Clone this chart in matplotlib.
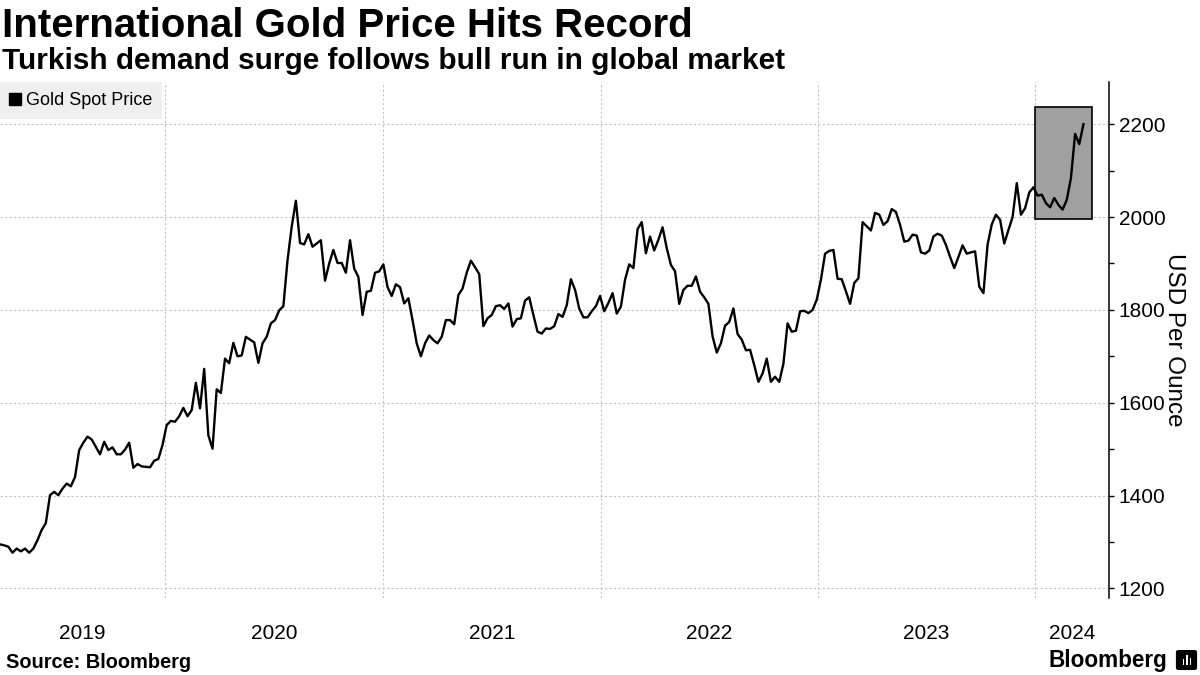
import matplotlib
matplotlib.use('Agg')
import matplotlib.pyplot as plt
import matplotlib.dates as mdates
from matplotlib import font_manager
from matplotlib.lines import Line2D
from matplotlib.patches import Rectangle, FancyBboxPatch
from matplotlib.ticker import MultipleLocator
import pandas as pd

title = 'International Gold Price Hits Record'
subtitle = 'Turkish demand surge follows bull run in global market'
source = 'Source: Bloomberg'
brand = 'Bloomberg'
series_name = 'Gold Spot Price'
y_label = 'USD Per Ounce'

# weekly closes (Fridays)
first_week = '2019-03-29'
gold_price = [
    1295, 1293, 1290, 1277, 1286, 1280, 1286, 1277, 1286, 1304,
    1326, 1341, 1401, 1408, 1401, 1415, 1426, 1420, 1440, 1498,
    1514, 1527, 1521, 1505, 1489, 1516, 1498, 1504, 1489, 1489,
    1499, 1514, 1460, 1468, 1463, 1462, 1461, 1475, 1479, 1509,
    1552, 1561, 1559, 1571, 1589, 1571, 1584, 1643, 1588, 1673,
    1530, 1501, 1629, 1621, 1695, 1685, 1729, 1700, 1702, 1742,
    1736, 1730, 1686, 1728, 1742, 1771, 1778, 1799, 1808, 1907,
    1979, 2035, 1944, 1941, 1963, 1936, 1943, 1950, 1863, 1900,
    1929, 1901, 1901, 1880, 1950, 1889, 1871, 1789, 1839, 1841,
    1880, 1883, 1898, 1849, 1830, 1855, 1849, 1814, 1825, 1778,
    1728, 1700, 1728, 1745, 1735, 1728, 1742, 1778, 1778, 1769,
    1832, 1846, 1880, 1906, 1892, 1877, 1765, 1782, 1789, 1808,
    1810, 1802, 1814, 1764, 1780, 1782, 1820, 1827, 1789, 1753,
    1749, 1760, 1759, 1765, 1791, 1785, 1810, 1866, 1843, 1803,
    1784, 1784, 1797, 1808, 1830, 1797, 1815, 1836, 1792, 1807,
    1865, 1898, 1890, 1974, 1989, 1922, 1958, 1928, 1951, 1978,
    1933, 1897, 1883, 1813, 1843, 1852, 1852, 1872, 1839, 1827,
    1813, 1743, 1708, 1728, 1766, 1774, 1803, 1748, 1736, 1713,
    1714, 1681, 1645, 1663, 1695, 1645, 1656, 1645, 1684, 1771,
    1753, 1755, 1797, 1798, 1793, 1800, 1822, 1865, 1921, 1927,
    1929, 1867, 1866, 1840, 1813, 1858, 1868, 1989, 1980, 1971,
    2009, 2005, 1983, 1991, 2017, 2011, 1983, 1947, 1949, 1962,
    1960, 1924, 1921, 1928, 1958, 1964, 1960, 1940, 1914, 1890,
    1914, 1939, 1921, 1924, 1926, 1850, 1836, 1941, 1984, 2005,
    1994, 1943, 1972, 2000, 2073, 2005, 2019, 2053, 2064, 2046,
    2048, 2030, 2021, 2041, 2026, 2016, 2037, 2084, 2179, 2157, 2200,
]
years = [2019, 2020, 2021, 2022, 2023, 2024]
y_ticks = [1200, 1400, 1600, 1800, 2000, 2200]
highlight_from = '2024-01-01'

dates = pd.date_range(first_week, periods=len(gold_price), freq='7D')

names = {f.name for f in font_manager.fontManager.ttflist}
body_font = 'Liberation Sans' if 'Liberation Sans' in names else 'DejaVu Sans'
head_font = 'Liberation Sans Narrow' if 'Liberation Sans Narrow' in names else body_font
plt.rcParams['font.family'] = body_font

fig = plt.figure(figsize=(12, 6.75), dpi=100)
ax = fig.add_axes([0, 0.1144, 0.9242, 0.7636])

ax.plot(dates, gold_price, color='black', lw=1.7, zorder=3)

# grey box around the 2024 run
hl = pd.Timestamp(highlight_from)
recent = [v for d, v in zip(dates, gold_price) if d >= hl]
x0 = mdates.date2num(hl)
x1 = mdates.date2num(dates[-1] + pd.Timedelta(days=15))
ax.add_patch(Rectangle((x0, min(recent) - 20), x1 - x0, max(recent) - min(recent) + 56,
                       facecolor='#a0a0a0', edgecolor='black', lw=1.2, zorder=2))

left = dates[0]
right = pd.Timestamp('2024-05-04')
ax.set_xlim(left, right)
ax.set_ylim(1180, 2290)

# year gridlines, year labels centred in the visible part of each year
starts = [pd.Timestamp(f'{y}-01-01') for y in years[1:]]
ax.set_xticks(starts)
ax.set_xticklabels([])
mids = []
for y in years:
    a = max(pd.Timestamp(f'{y}-01-01'), left)
    b = min(pd.Timestamp(f'{y + 1}-01-01'), right)
    mids.append(a + (b - a) / 2)
ax.set_xticks(mids, minor=True)
ax.set_xticklabels([str(y) for y in years], minor=True)
ax.tick_params(axis='x', which='both', length=0, pad=19, labelsize=15)

ax.yaxis.tick_right()
ax.set_yticks(y_ticks)
ax.yaxis.set_minor_locator(MultipleLocator(100))
ax.tick_params(axis='y', which='both', direction='out', length=3.5, width=1, pad=3.5, labelsize=15)

ax.grid(axis='both', which='major', color='#c4c4c4', ls=(0, (2, 2)), lw=0.8)
ax.set_axisbelow(True)

for s in ['top', 'left', 'bottom']:
    ax.spines[s].set_visible(False)
ax.spines['right'].set_linewidth(1.1)

ax.set_ylabel(y_label, fontsize=17.5, rotation=-90, ha='center', va='center')
ax.yaxis.set_label_position('right')
ax.yaxis.set_label_coords(1185 / 1109, 0.5)

handle = Line2D([], [], marker='s', ls='none', color='black', markersize=8.5)
leg = ax.legend([handle], [series_name], loc='upper left', bbox_to_anchor=(0, 1),
                borderaxespad=0, frameon=True, fancybox=False, facecolor='#efefef',
                edgecolor='none', framealpha=1, fontsize=13, handlelength=0.6,
                handletextpad=0.3, borderpad=0.55)

t1 = fig.text(2 / 1200, 1 - 37 / 675, title, fontsize=27, weight='bold', family=head_font, va='baseline')
t2 = fig.text(2 / 1200, 1 - 69 / 675, subtitle, fontsize=17, weight='bold', family=head_font, va='baseline')
t3 = fig.text(6 / 1200, 1 - 668 / 675, source, fontsize=13, weight='bold', family=head_font, va='baseline')
t4 = fig.text(1048 / 1200, 1 - 667 / 675, brand, fontsize=17, weight='bold', family=body_font, va='baseline')

# stretch headings to the widths seen in the original
r = fig.canvas.get_renderer()
for t, px in [(t1, 690), (t2, 782), (t3, 185), (t4, 119)]:
    w = t.get_window_extent(r).width
    t.set_fontsize(t.get_fontsize() * px / w)

# little logo mark
fig.add_artist(FancyBboxPatch((1179 / 1200, 1 - 668 / 675), 15 / 1200, 16 / 675,
                              boxstyle='round,pad=0.002', transform=fig.transFigure,
                              facecolor='black', edgecolor='black'))
for bx, bh in [(1182.5, 6), (1186, 10), (1189.5, 7)]:
    fig.add_artist(Rectangle((bx / 1200, 1 - 665 / 675), 1.8 / 1200, bh / 675,
                             transform=fig.transFigure, facecolor='white', edgecolor='none'))

fig.savefig('out.png', dpi=100)
